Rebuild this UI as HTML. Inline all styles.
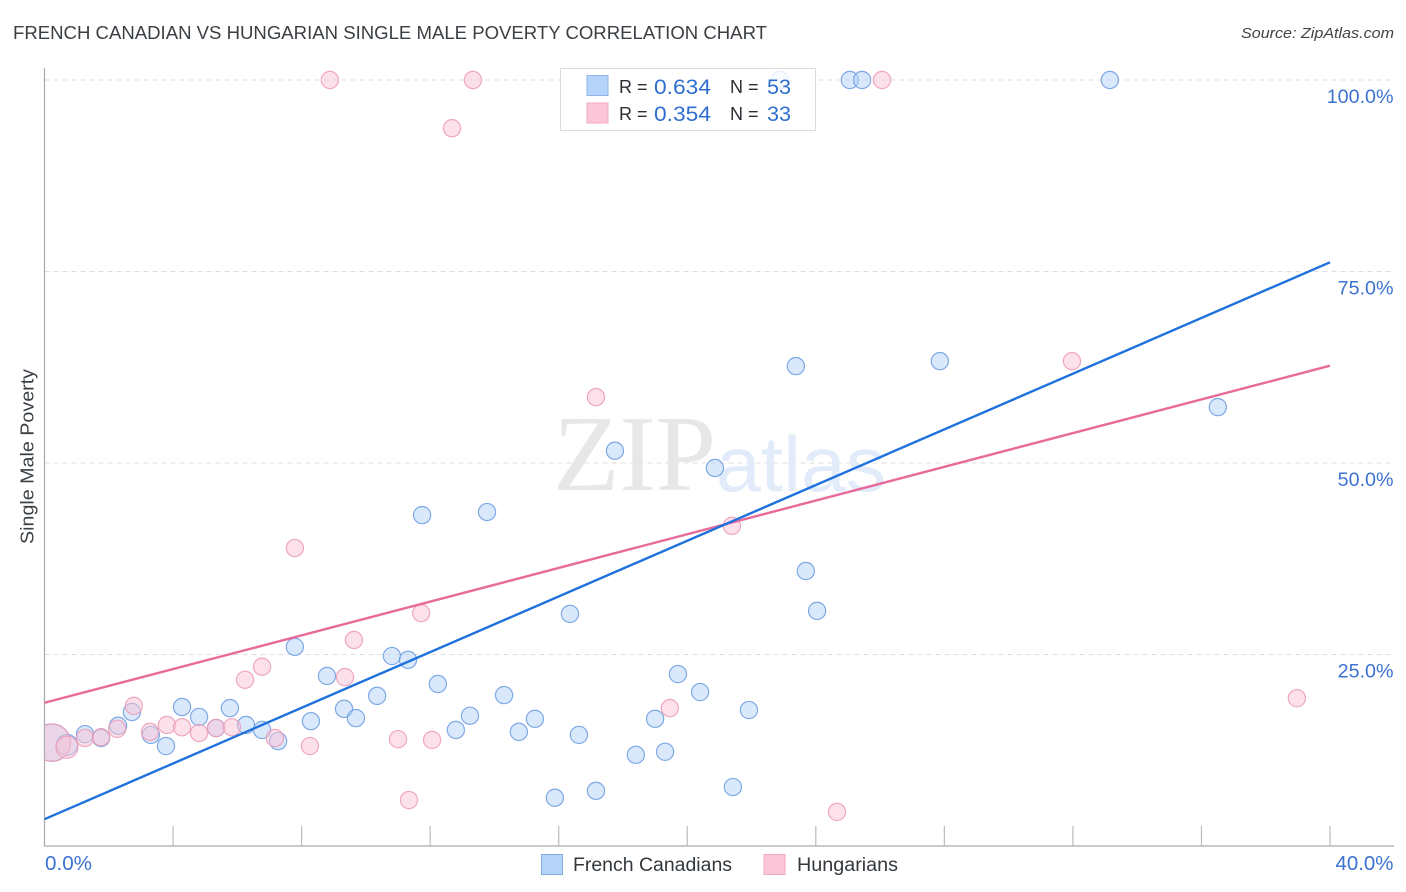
<!DOCTYPE html>
<html lang="en">
<head>
<meta charset="utf-8">
<title>French Canadian vs Hungarian Single Male Poverty Correlation Chart</title>
<style>
html,body{margin:0;padding:0;background:#fff;width:1406px;height:892px;overflow:hidden}
svg{display:block;font-family:"Liberation Sans",sans-serif}
</style>
</head>
<body>
<svg id="chart" xmlns="http://www.w3.org/2000/svg" width="1406" height="892" viewBox="0 0 1406 892">
  <rect width="1406" height="892" fill="#fff"/>
  <text x="13" y="39" font-size="18.5" fill="#3a3f44" textLength="754" lengthAdjust="spacingAndGlyphs">FRENCH CANADIAN VS HUNGARIAN SINGLE MALE POVERTY CORRELATION CHART</text>
  <text x="1394" y="38" font-size="15" font-style="italic" fill="#444" text-anchor="end" textLength="153" lengthAdjust="spacingAndGlyphs">Source: ZipAtlas.com</text>
  <text transform="translate(33.5,456.5) rotate(-90)" font-size="18" fill="#3a3f44" text-anchor="middle" textLength="175" lengthAdjust="spacingAndGlyphs">Single Male Poverty</text>
  <g id="grid"></g>
  <text x="553" y="490" font-family="'Liberation Serif',serif" font-size="108" fill="#e7e7e7" textLength="163" lengthAdjust="spacingAndGlyphs">ZIP</text>
  <text x="716" y="491" font-size="78" fill="#e2ebfa" textLength="170" lengthAdjust="spacingAndGlyphs">atlas</text>
  <g id="axes"></g>
  <g id="blue-points"></g>
  <g id="pink-points"></g>
  <g id="trend-lines"></g>
  <g id="tick-labels"></g>

  <g>
    <rect x="560.5" y="68.5" width="255" height="62" fill="#fff" fill-opacity="0.8" stroke="#dcdcdc"/>
    <rect x="587" y="75.5" width="21" height="20" fill="#b5d3f9" stroke="#8fb6e8"/>
    <rect x="587" y="103" width="21" height="20" fill="#fcc6d8" stroke="#f1a9c1"/>
    <text x="619" y="93" font-size="18" fill="#2b2f33">R =</text>
    <text x="654" y="94" font-size="21" fill="#2f6fd0" textLength="57" lengthAdjust="spacingAndGlyphs">0.634</text>
    <text x="730" y="93" font-size="18" fill="#2b2f33">N =</text>
    <text x="767" y="94" font-size="21" fill="#2f6fd0" textLength="24" lengthAdjust="spacingAndGlyphs">53</text>
    <text x="619" y="120" font-size="18" fill="#2b2f33">R =</text>
    <text x="654" y="121" font-size="21" fill="#2f6fd0" textLength="57" lengthAdjust="spacingAndGlyphs">0.354</text>
    <text x="730" y="120" font-size="18" fill="#2b2f33">N =</text>
    <text x="767" y="121" font-size="21" fill="#2f6fd0" textLength="24" lengthAdjust="spacingAndGlyphs">33</text>
  </g>

  <g>
    <rect x="541.5" y="854.5" width="21" height="20" fill="#b5d3f9" stroke="#84ade4"/>
    <text x="573" y="871" font-size="19" fill="#33383d" textLength="159" lengthAdjust="spacingAndGlyphs">French Canadians</text>
    <rect x="764" y="854.5" width="21" height="20" fill="#fcc6d8" stroke="#f1a9c1"/>
    <text x="797" y="871" font-size="19" fill="#33383d" textLength="101" lengthAdjust="spacingAndGlyphs">Hungarians</text>
  </g>
</svg>
<script>
const xTickValues = [0, 4, 8, 12, 16, 20, 24, 28, 32, 36, 40];
const yTickValues = [25, 50, 75, 100];
const yTickLabels = ["25.0%", "50.0%", "75.0%", "100.0%"];
const xEndLabels = ["0.0%", "40.0%"];

const blueX = [0.23,0.70,1.26,1.76,2.29,2.72,3.31,3.78,4.28,4.81,5.34,5.77,6.27,6.77,7.27,7.79,8.29,8.79,9.32,9.69,10.35,10.81,11.31,11.75,12.24,12.80,13.24,13.77,14.30,14.76,15.26,15.88,16.35,16.63,17.16,17.75,18.40,19.00,19.31,19.71,20.40,20.86,21.42,21.92,23.38,23.69,24.04,22.88,25.06,25.44,27.86,33.15,36.51];
const blueY = [13.5,13.2,14.6,14.1,15.7,17.5,14.5,13.05,18.15,16.85,15.4,18.0,15.8,15.15,13.7,26.0,16.3,22.2,17.9,16.7,19.6,24.8,24.3,43.2,21.15,15.15,17.0,43.6,19.7,14.9,16.6,6.3,30.3,14.5,7.2,51.6,11.9,16.6,12.3,22.45,20.1,49.35,7.7,17.75,62.65,35.9,30.7,100,100,100,63.3,100,57.3];
const blueWeight = [4.7,1.5];

const pinkX = [0.23,0.70,1.26,1.76,2.26,2.78,3.28,3.81,4.28,4.81,5.34,5.83,6.24,6.77,7.17,7.79,8.26,8.88,9.35,9.63,11.0,11.34,11.72,12.06,12.68,13.33,17.16,19.46,21.39,24.66,26.06,31.97,38.97];
const pinkY = [13.5,12.9,14.1,14.2,15.3,18.3,14.9,15.8,15.5,14.75,15.4,15.5,21.7,23.4,14.1,38.9,13.05,100,22.05,26.9,13.95,6.0,30.4,13.85,93.7,100,58.6,18.0,41.8,4.45,100,63.3,19.3];
const pinkWeight = [4.7,1.65];

const trendX = [0, 40];
const blueTrend = [3.5, 76.2];
const pinkTrend = [18.7, 62.7];

const NS = "http://www.w3.org/2000/svg";
function xScale(v){ return 44.5 + v * (1330 - 44.5) / 40; }
function yScale(v){ return 846 - v * 7.66; }
function make(tag, attrs, parent){
  const el = document.createElementNS(NS, tag);
  for (const k in attrs) el.setAttribute(k, attrs[k]);
  parent.appendChild(el);
  return el;
}

const grid = document.getElementById("grid");
yTickValues.forEach(function(v){
  const el = make("line", {x1:44.5, x2:1394, y1:yScale(v), y2:yScale(v), stroke:"#dedede", "stroke-width":1, "stroke-dasharray":"5 4"}, grid);
  
  
});

const axes = document.getElementById("axes");
const yAxisLine = make("line", {x1:44.5, x2:44.5, y1:68, y2:846, stroke:"#aaa", "stroke-width":1.2}, axes);


const xAxisLine = make("line", {x1:44, x2:1394, y1:846, y2:846, stroke:"#aaa", "stroke-width":1.2}, axes);


xTickValues.slice(1).forEach(function(v){
  const el = make("line", {x1:xScale(v), x2:xScale(v), y1:826, y2:846, stroke:"#bbb", "stroke-width":1.2}, axes);
  
  
});

const defs = make("defs", {}, document.getElementById("chart"));
const clipPath = make("clipPath", {id:"plot-clip"}, defs);
make("rect", {x:45, y:60, width:1350, height:786}, clipPath);

function drawPoints(groupId, xs, ys, weights, fill, stroke, name){
  const g = document.getElementById(groupId);
  xs.forEach(function(x, i){
    const w = weights[i] || 1;
    const el = make("circle", {cx:xScale(x), cy:yScale(ys[i]), r:8.6 * Math.sqrt(w), fill:fill, "fill-opacity":0.5, stroke:stroke, "stroke-opacity":0.85, "stroke-width":1.2, "clip-path":"url(#plot-clip)"}, g);
    
    
  });
}
drawPoints("blue-points", blueX, blueY, blueWeight, "#b3d1f8", "#6b9ce0", "french-canadians-point");
drawPoints("pink-points", pinkX, pinkY, pinkWeight, "#fbc3d6", "#eb9ab6", "hungarians-point");

const trends = document.getElementById("trend-lines");
const pinkLine = make("line", {x1:xScale(trendX[0]), x2:xScale(trendX[1]), y1:yScale(pinkTrend[0]), y2:yScale(pinkTrend[1]), stroke:"#e8699a", "stroke-width":2.4}, trends);


const blueLine = make("line", {x1:xScale(trendX[0]), x2:xScale(trendX[1]), y1:yScale(blueTrend[0]), y2:yScale(blueTrend[1]), stroke:"#1f72dc", "stroke-width":2.4}, trends);



const labels = document.getElementById("tick-labels");
const LABEL_BLUE = "#3c72d2";
yTickValues.forEach(function(v, i){
  const el = make("text", {x:1393.5, y:yScale(v) + 23, "font-size":19.7, fill:LABEL_BLUE, "text-anchor":"end"}, labels);
  el.textContent = yTickLabels[i];
  
  
});
const xLabelLeft = make("text", {x:45, y:870, "font-size":20, fill:LABEL_BLUE, textLength:47, lengthAdjust:"spacingAndGlyphs"}, labels);
xLabelLeft.textContent = xEndLabels[0];


const xLabelRight = make("text", {x:1393.5, y:870, "font-size":20, fill:LABEL_BLUE, "text-anchor":"end", textLength:58, lengthAdjust:"spacingAndGlyphs"}, labels);
xLabelRight.textContent = xEndLabels[1];


</script>
</body>
</html>
